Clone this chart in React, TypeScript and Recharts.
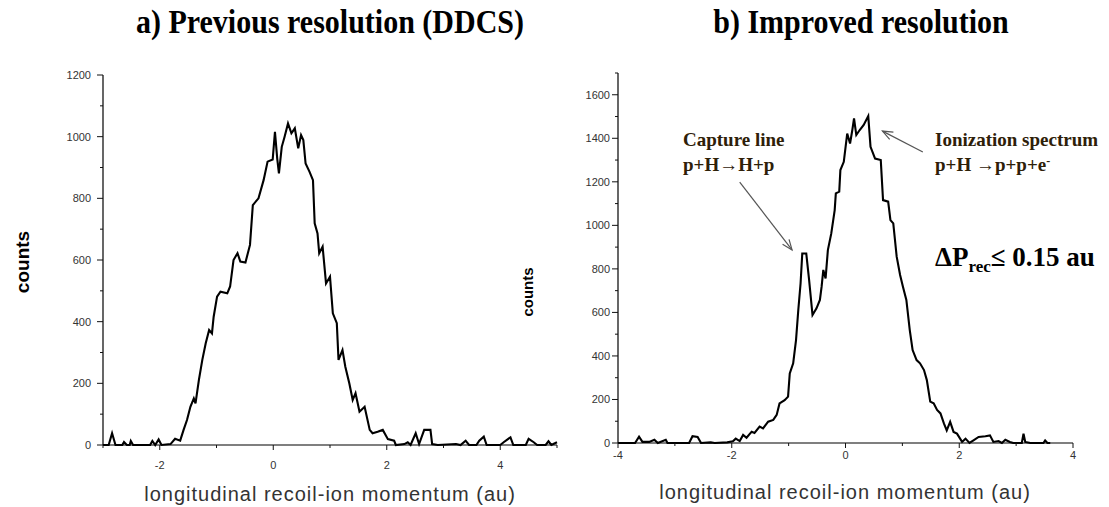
import { LineChart, Line, XAxis, YAxis, ReferenceLine } from "recharts";

// a) previous resolution (DDCS)
const prevMomentum = [
  -3.0, -2.9, -2.84, -2.78, -2.66, -2.63, -2.58, -2.53, -2.51, -2.47, -2.17, -2.13, -2.08, -2.02, -1.97,
  -1.81, -1.73, -1.64, -1.58, -1.52, -1.46, -1.4, -1.37, -1.31, -1.25, -1.19, -1.13, -1.08, -1.05, -0.99,
  -0.93, -0.81, -0.76, -0.7, -0.63, -0.58, -0.49, -0.41, -0.36, -0.26, -0.17, -0.1, -0.01, 0.03, 0.07,
  0.1, 0.15, 0.2, 0.26, 0.32, 0.38, 0.44, 0.49, 0.53, 0.57, 0.64, 0.7, 0.73, 0.78, 0.81,
  0.87, 0.93, 1.0, 1.05, 1.12, 1.15, 1.22, 1.27, 1.34, 1.4, 1.45, 1.52, 1.61, 1.7, 1.75,
  1.84, 1.93, 2.02, 2.13, 2.16, 2.31, 2.37, 2.42, 2.51, 2.57, 2.66, 2.77, 2.8, 2.9, 3.22,
  3.3, 3.39, 3.45, 3.58, 3.63, 3.71, 3.76, 4.0, 4.06, 4.18, 4.23, 4.45, 4.5, 4.59, 4.65,
  4.8, 4.85, 4.9, 5.0,
];
const prevCounts = [
  0, 0, 38, 0, 0, 10, 0, 0, 13, 0, 0, 13, 0, 18, 0,
  3, 20, 14, 49, 81, 124, 151, 135, 211, 276, 330, 373, 362, 416, 481,
  497, 492, 514, 600, 622, 595, 592, 649, 778, 800, 859, 919, 926, 1016, 929,
  881, 967, 1000, 1043, 1011, 1027, 962, 1005, 989, 913, 886, 859, 719, 686, 622,
  643, 524, 546, 427, 395, 276, 308, 254, 200, 146, 168, 108, 124, 49, 38,
  43, 49, 19, 14, 0, 3, 9, 0, 38, 3, 49, 49, 3, 0, 3,
  0, 14, 0, 0, 14, 27, 0, 0, 9, 25, 0, 0, 20, 9, 0,
  0, 12, 0, 9,
];

// b) improved resolution
const impMomentum = [
  -4.0, -3.7, -3.63, -3.57, -3.45, -3.36, -3.3, -3.16, -3.13, -2.75, -2.69, -2.6, -2.54, -2.37, -2.3,
  -2.08, -1.98, -1.93, -1.86, -1.8, -1.74, -1.65, -1.6, -1.51, -1.45, -1.36, -1.27, -1.21, -1.16, -1.07,
  -1.01, -0.98, -0.92, -0.87, -0.83, -0.79, -0.76, -0.69, -0.64, -0.58, -0.51, -0.45, -0.42, -0.39, -0.35,
  -0.31, -0.25, -0.19, -0.17, -0.11, -0.09, -0.03, 0.03, 0.08, 0.12, 0.15, 0.19, 0.25, 0.32, 0.4,
  0.44, 0.52, 0.62, 0.66, 0.75, 0.79, 0.84, 0.9, 0.96, 1.01, 1.07, 1.13, 1.18, 1.25, 1.31,
  1.38, 1.43, 1.49, 1.55, 1.61, 1.67, 1.73, 1.78, 1.84, 1.9, 1.96, 2.05, 2.11, 2.18, 2.25,
  2.34, 2.46, 2.54, 2.6, 2.69, 2.75, 2.81, 2.89, 2.95, 3.1, 3.13, 3.16, 3.25, 3.48, 3.51,
  3.55, 3.6,
];
const impCounts = [
  0, 0, 29, 5, 5, 15, 0, 15, 0, 0, 31, 28, 0, 3, 0,
  3, 8, 20, 9, 37, 24, 52, 46, 75, 67, 98, 106, 129, 182, 197,
  213, 320, 366, 473, 611, 733, 871, 871, 749, 588, 619, 657, 718, 795, 756,
  886, 963, 1070, 1147, 1155, 1254, 1292, 1422, 1376, 1438, 1491, 1415, 1438, 1461, 1502,
  1361, 1307, 1300, 1116, 1109, 1024, 1009, 856, 772, 718, 657, 519, 427, 381, 366,
  335, 289, 190, 182, 152, 136, 90, 58, 97, 51, 43, 5, 20, 0, 12,
  28, 31, 35, 5, 9, 0, 15, 5, 0, 0, 43, 5, 0, 0, 12,
  0, 0,
];

const prevXTicks = [-3, -2, -1, 0, 1, 2, 3, 4, 5];
const prevYTicks = [0, 100, 200, 300, 400, 500, 600, 700, 800, 900, 1000, 1100, 1200];
const impXTicks = [-4, -3, -2, -1, 0, 1, 2, 3, 4];
const impYTicks = [0, 100, 200, 300, 400, 500, 600, 700, 800, 900, 1000, 1100, 1200, 1300, 1400, 1500, 1600, 1700];

const prevData = prevMomentum.map((p, i) => ({ p, counts: prevCounts[i] }));
const impData = impMomentum.map((p, i) => ({ p, counts: impCounts[i] }));

const SANS = "'Liberation Sans', Arial, sans-serif";
const SERIF = "'Liberation Serif', 'Times New Roman', serif";
const NOTE = "#2e2008";
const AXIS = { stroke: "#000", strokeWidth: 1.2 };

function XTick({ x, y, payload, labelDy }: any) {
  const major = payload.value % 2 === 0;
  return (
    <g>
      <line x1={x} x2={x} y1={y} y2={y + (major ? 5 : 3)} stroke="#111" />
      {major && (
        <text x={x} y={y + labelDy} textAnchor="middle" dominantBaseline="central" fontSize={11} fill="#333" fontFamily={SANS}>
          {payload.value}
        </text>
      )}
    </g>
  );
}

function YTick({ x, y, payload, labelDx, maxLabel }: any) {
  const major = payload.value % 200 === 0 && payload.value <= maxLabel;
  return (
    <g>
      <line x1={x - (major ? 6 : 3)} x2={x} y1={y} y2={y} stroke="#111" />
      {major && (
        <text x={x - labelDx} y={y} textAnchor="end" dominantBaseline="central" fontSize={11} fill="#333" fontFamily={SANS}>
          {payload.value}
        </text>
      )}
    </g>
  );
}

function Arrow(props: any) {
  const { x1, y1, x2, y2 } = props;
  const a = Math.atan2(y2 - y1, x2 - x1);
  const len = 11;
  const w = 0.38;
  const h1 = `${x2 - len * Math.cos(a - w)},${y2 - len * Math.sin(a - w)}`;
  const h2 = `${x2 - len * Math.cos(a + w)},${y2 - len * Math.sin(a + w)}`;
  return (
    <g>
      <line x1={x1} y1={y1} x2={x2} y2={y2} stroke="#555" strokeWidth={1.2} />
      <polyline points={`${h1} ${x2},${y2} ${h2}`} fill="none" stroke="#555" strokeWidth={1.2} />
    </g>
  );
}

const abs = (left: number, top: number, extra: any = {}) => ({
  position: "absolute" as const,
  left,
  top,
  whiteSpace: "nowrap" as const,
  ...extra,
});

export default function App() {
  return (
    <div style={{ position: "absolute", left: 0, top: 0, width: 1109, height: 507, background: "#fff", overflow: "hidden" }}>
      <div style={abs(330, 5, { transform: "translateX(-50%) scaleY(1.1)", font: `bold 30px ${SERIF}`, lineHeight: "34px", color: "#000" })}>
        a) Previous resolution (DDCS)
      </div>
      <div style={abs(861, 5, { transform: "translateX(-50%) scaleY(1.1)", font: `bold 30px ${SERIF}`, lineHeight: "34px", color: "#000" })}>
        b) Improved resolution
      </div>

      <div style={abs(0, 0)}>
        <LineChart width={570} height={507} data={prevData} margin={{ top: 75, right: 13, bottom: 32, left: 43 }}>
          <XAxis
            dataKey="p"
            type="number"
            domain={[-3, 5]}
            ticks={prevXTicks}
            height={30}
            tickSize={0}
            tickMargin={0}
            tickLine={false}
            axisLine={AXIS}
            interval={0}
            tick={(t: any) => <XTick {...t} labelDy={20} />}
          />
          <YAxis
            type="number"
            domain={[0, 1200]}
            ticks={prevYTicks}
            width={60}
            tickSize={0}
            tickMargin={0}
            tickLine={false}
            axisLine={AXIS}
            interval={0}
            tick={(t: any) => <YTick {...t} labelDx={12} maxLabel={1200} />}
          />
          <Line dataKey="counts" type="linear" stroke="#000" strokeWidth={2.1} dot={false} isAnimationActive={false} />
        </LineChart>
      </div>

      <div style={abs(540, 0)}>
        <LineChart width={569} height={507} data={impData} margin={{ top: 73, right: 36, bottom: 34, left: 28 }}>
          <XAxis
            dataKey="p"
            type="number"
            domain={[-4, 4]}
            ticks={impXTicks}
            height={30}
            tickSize={0}
            tickMargin={0}
            tickLine={false}
            axisLine={AXIS}
            interval={0}
            tick={(t: any) => <XTick {...t} labelDy={12} />}
          />
          <YAxis
            type="number"
            domain={[0, 1700]}
            ticks={impYTicks}
            width={50}
            tickSize={0}
            tickMargin={0}
            tickLine={false}
            axisLine={AXIS}
            interval={0}
            tick={(t: any) => <YTick {...t} labelDx={8} maxLabel={1600} />}
          />
          <ReferenceLine segment={[{ x: -1.86, y: 1199 }, { x: -0.94, y: 887 }]} shape={Arrow} />
          <ReferenceLine segment={[{ x: 1.36, y: 1337 }, { x: 0.65, y: 1433 }]} shape={Arrow} />
          <Line dataKey="counts" type="linear" stroke="#000" strokeWidth={2.1} dot={false} isAnimationActive={false} />
        </LineChart>
      </div>

      <div style={abs(23, 262, { transform: "translate(-50%, -50%) rotate(-90deg)", font: `bold 19px ${SANS}`, color: "#000" })}>counts</div>
      <div style={abs(527, 292, { transform: "translate(-50%, -50%) rotate(-90deg)", font: `bold 15px ${SANS}`, color: "#000" })}>counts</div>

      <div style={abs(330, 482, { transform: "translateX(-50%)", font: `20px ${SANS}`, letterSpacing: 1, lineHeight: "24px", color: "#333" })}>
        longitudinal recoil-ion momentum (au)
      </div>
      <div style={abs(845, 480, { transform: "translateX(-50%)", font: `20px ${SANS}`, letterSpacing: 1, lineHeight: "24px", color: "#333" })}>
        longitudinal recoil-ion momentum (au)
      </div>

      <div style={abs(683, 127, { font: `bold 19px ${SERIF}`, lineHeight: "25px", color: NOTE })}>
        Capture line
        <br />
        p+H→H+p
      </div>
      <div style={abs(935, 127, { font: `bold 19px ${SERIF}`, lineHeight: "25px", color: NOTE })}>
        Ionization spectrum
        <br />
        p+H →p+p+e<sup style={{ fontSize: 12, verticalAlign: "6px", lineHeight: 0 }}>-</sup>
      </div>
      <div style={abs(935, 241, { font: `bold 27px ${SERIF}`, lineHeight: "32px", color: "#000" })}>
        ΔP<sub style={{ fontSize: 17, verticalAlign: "-6px", lineHeight: 0 }}>rec</sub>≤ 0.15 au
      </div>
    </div>
  );
}
